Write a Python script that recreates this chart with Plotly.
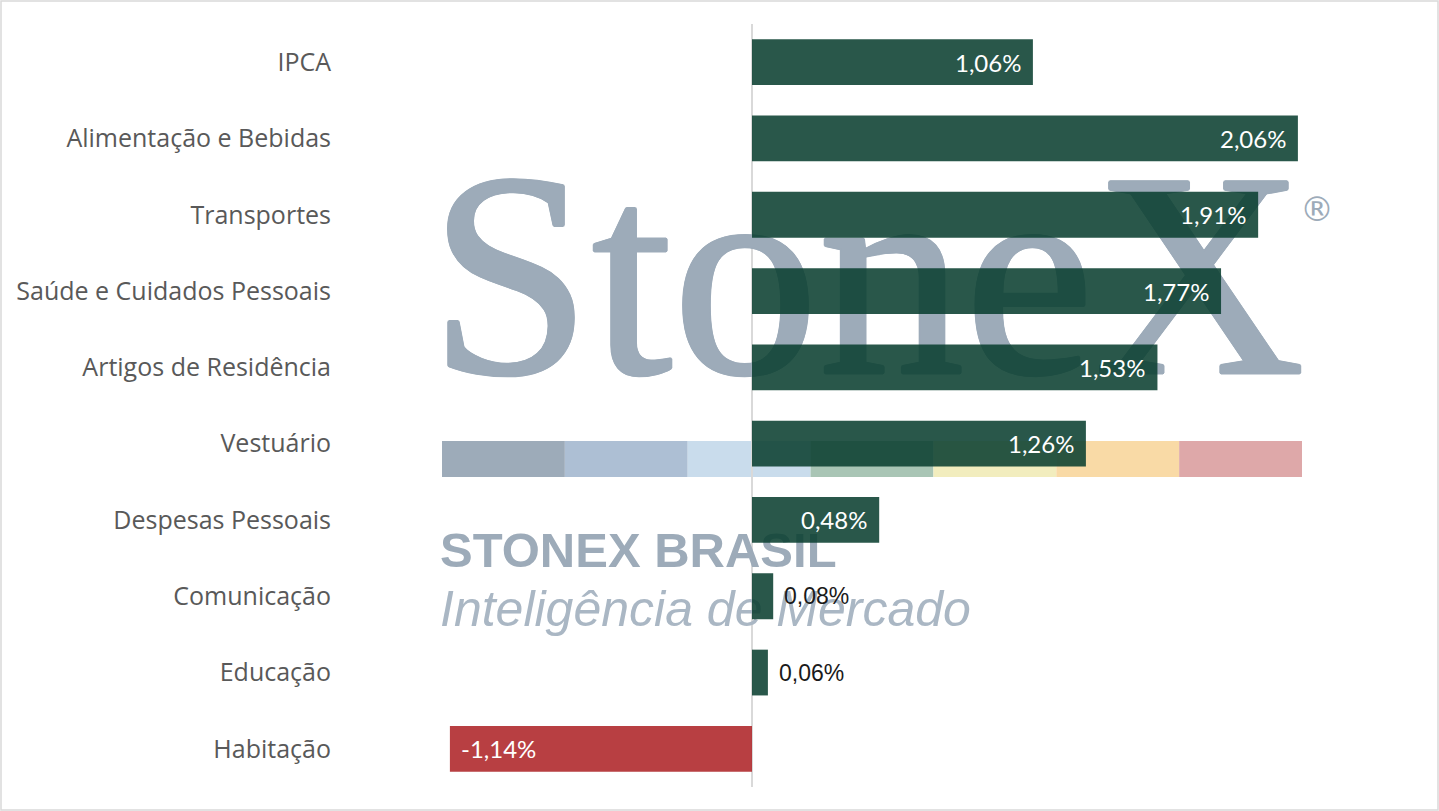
import plotly.graph_objects as go

categories = ["IPCA", "Alimentação e Bebidas", "Transportes", "Saúde e Cuidados Pessoais",
              "Artigos de Residência", "Vestuário", "Despesas Pessoais", "Comunicação",
              "Educação", "Habitação"]
values = [1.06, 2.06, 1.91, 1.77, 1.53, 1.26, 0.48, 0.08, 0.06, -1.14]
labels = ["1,06%", "2,06%", "1,91%", "1,77%", "1,53%", "1,26%", "0,48%", "0,08%", "0,06%", "-1,14%"]

W, H = 1439, 811
ML, MR, MT, MB = 345, 19, 24, 24
PW, PH = W - ML - MR, H - MT - MB

POS = "rgba(11,64,49,0.88)"
NEG = "rgba(174,36,40,0.88)"
WM = "#9DABB9"

fig = go.Figure()

# watermark (base axes in pixel units, drawn beneath the bars)
def wm_text(x, y, txt, size, family, color, weight="normal", style="normal", shadow="none"):
    fig.add_trace(go.Scatter(
        x=[x], y=[y], mode="text", text=[txt], textposition="middle right",
        textfont=dict(size=size, family=family, color=color, weight=weight, style=style,
                      shadow=shadow),
        hoverinfo="skip", showlegend=False, xaxis="x", yaxis="y"))

thick = ", ".join(f"{dx}px {dy}px 0 {WM}" for dx, dy in
                  [(1.5, 0), (-1.5, 0), (0, 1.5), (0, -1.5), (1, 1), (-1, -1), (1, -1), (-1, 1)])
wm_text(429, 300, "StoneX", 292, "Liberation Serif", WM, shadow=thick)
wm_text(1300, 212, "®", 34, "DejaVu Sans", WM)
wm_text(440, 555, "STONEX BRASIL", 49, "Liberation Sans", WM, weight="bold")
wm_text(440, 613, "Inteligência de Mercado", 50, "Liberation Sans", "#AAB7C4", style="italic")

strip = ["#9DABB9", "#ADBFD4", "#C9DCEC", "#A9C5B5", "#F2EDBE", "#F9DAA6", "#DEA8A9"]
shapes = []
x0s, seg = 442, (1302 - 442) / 7
for i, c in enumerate(strip):
    shapes.append(dict(type="rect", xref="x", yref="y", x0=x0s + i * seg, x1=x0s + (i + 1) * seg,
                       y0=441, y1=477, fillcolor=c, line=dict(width=0), layer="below"))

# bars
fig.add_trace(go.Bar(
    y=categories, x=values, orientation="h",
    marker=dict(color=[POS if v >= 0 else NEG for v in values], line=dict(width=0)),
    xaxis="x2", yaxis="y2", hoverinfo="skip", showlegend=False))

annotations = []
for c, v, t in zip(categories, values, labels):
    if v < 0:
        annotations.append(dict(x=v, y=c, xref="x2", yref="y2", text=t, showarrow=False,
                                xanchor="left", xshift=9, font=dict(color="white", size=24, family="Lato")))
    elif v < 0.3:
        annotations.append(dict(x=v, y=c, xref="x2", yref="y2", text=t, showarrow=False,
                                xanchor="left", xshift=9, font=dict(color="#1a1a1a", size=23, family="Liberation Sans")))
    else:
        annotations.append(dict(x=v, y=c, xref="x2", yref="y2", text=t, showarrow=False,
                                xanchor="right", xshift=-10, font=dict(color="white", size=24, family="Lato")))

# figure border
shapes.append(dict(type="rect", xref="paper", yref="paper",
                   x0=-(ML - 1) / PW, x1=1 + (MR - 1) / PW,
                   y0=-(MB - 1) / PH, y1=1 + (MT - 1) / PH,
                   line=dict(color="#D9D9D9", width=1.5), fillcolor="rgba(0,0,0,0)", layer="below"))

scale = 265.0
fig.update_layout(
    width=W, height=H,
    margin=dict(l=ML, r=MR, t=MT, b=MB),
    paper_bgcolor="white", plot_bgcolor="white",
    bargap=0.4,
    xaxis=dict(range=[ML, W - MR], visible=False, fixedrange=True),
    yaxis=dict(range=[H - MB, MT], visible=False, fixedrange=True),
    xaxis2=dict(overlaying="x", range=[-(752 - ML) / scale, (W - MR - 752) / scale],
                showgrid=False, showticklabels=False, zeroline=True,
                zerolinecolor="#D9D9D9", zerolinewidth=1.5, showline=False),
    yaxis2=dict(overlaying="y", autorange="reversed", showgrid=False, showline=False,
                ticks="", ticklabelstandoff=13,
                tickfont=dict(size=25, family="Open Sans", color="#595959")),
    shapes=shapes, annotations=annotations,
)

fig.write_html("out.html", config={"displayModeBar": False},
               post_script="document.body.style.margin='0';document.body.style.padding='0';")
